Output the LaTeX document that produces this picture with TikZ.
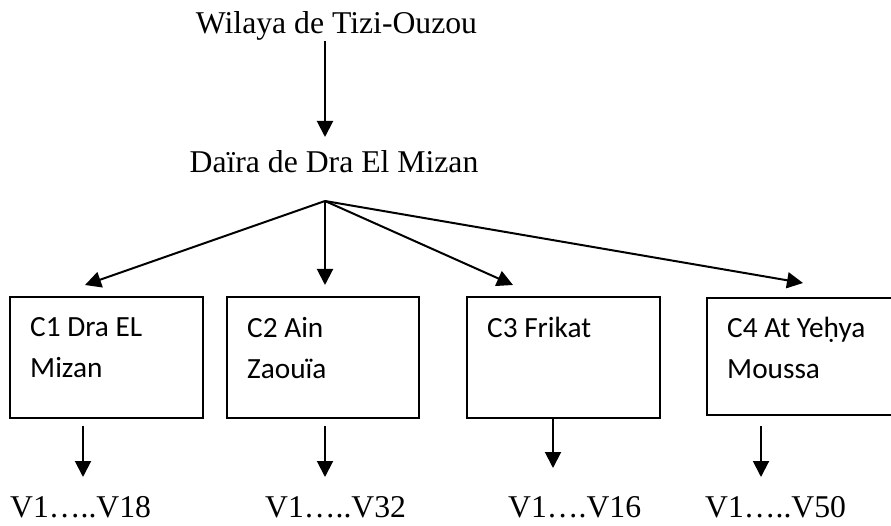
\documentclass[tikz,border=0pt]{standalone}
\usepackage{fontspec}
\setmainfont{Liberation Serif}
\newfontfamily\calfont{Carlito}
\usetikzlibrary{arrows.meta}
\begin{document}
\begin{tikzpicture}[x=1pt,y=-1pt,
  arr/.style={line width=2pt,-{Triangle[length=16pt,width=16pt]}},
  cbox/.style={draw,line width=1.7pt,rectangle,inner sep=0pt,anchor=north west},
  ttl/.style={font=\fontsize{31.7}{38}\selectfont,inner sep=0pt},
  ctext/.style={font=\calfont\fontsize{29.3}{41}\selectfont,inner sep=0pt,align=left,anchor=north west},
]
\useasboundingbox (0,0) rectangle (891,526);
% titles
\node[ttl,anchor=base] (wil) at (336.5,34) {Wilaya de Tizi-Ouzou};
\node[ttl,anchor=base] (dai) at (334,173) {Daïra de Dra El Mizan};
\coordinate (fan) at (325,201);
\coordinate (t0) at (325,137);
\draw[arr] (wil.south -| t0) -- (t0);
% boxes
\node[cbox,minimum width=193pt,minimum height=121pt] (b1) at (9,296) {};
\node[cbox,minimum width=192pt,minimum height=121pt] (b2) at (226,296) {};
\node[cbox,minimum width=193pt,minimum height=121pt] (b3) at (466,296) {};
\node[cbox,minimum width=194pt,minimum height=117pt] (b4) at (706,297) {};
\node[ctext] (c1) at (30,317) {C1 Dra EL\\Mizan};
\node[ctext] (c2) at (247,317) {C2 Ain\\Zaouïa};
\node[ctext] (c3) at (487,317) {C3 Frikat};
\node[ctext] (c4) at (727,317) {C4 At Yeḥya\\Moussa};
% fan arrows
\coordinate (a1) at (85,285);
\coordinate (a2) at (325,285);
\coordinate (a3) at (513,285);
\coordinate (a4) at (803,283);
\draw[arr] (fan) -- (a1);
\draw[arr] (fan) -- (a2);
\draw[arr] (fan) -- (a3);
\draw[arr] (fan) -- (a4);
% village labels
\node[ttl,anchor=base west] (v1) at (10,517) {V1…..V18};
\node[ttl,anchor=base west] (v2) at (265,517) {V1…..V32};
\node[ttl,anchor=base west] (v3) at (508,517) {V1….V16};
\node[ttl,anchor=base west] (v4) at (705,517) {V1…..V50};
% lower arrows
\coordinate (s1) at (83,426); \coordinate (e1) at (83,477);
\coordinate (s2) at (325,426); \coordinate (e2) at (325,477);
\coordinate (e3) at (553,468);
\coordinate (s4) at (761,426); \coordinate (e4) at (761,477);
\draw[arr] (s1) -- (e1);
\draw[arr] (s2) -- (e2);
\draw[arr] (b3.south -| e3) -- (e3);
\draw[arr] (s4) -- (e4);
\end{tikzpicture}
\end{document}
